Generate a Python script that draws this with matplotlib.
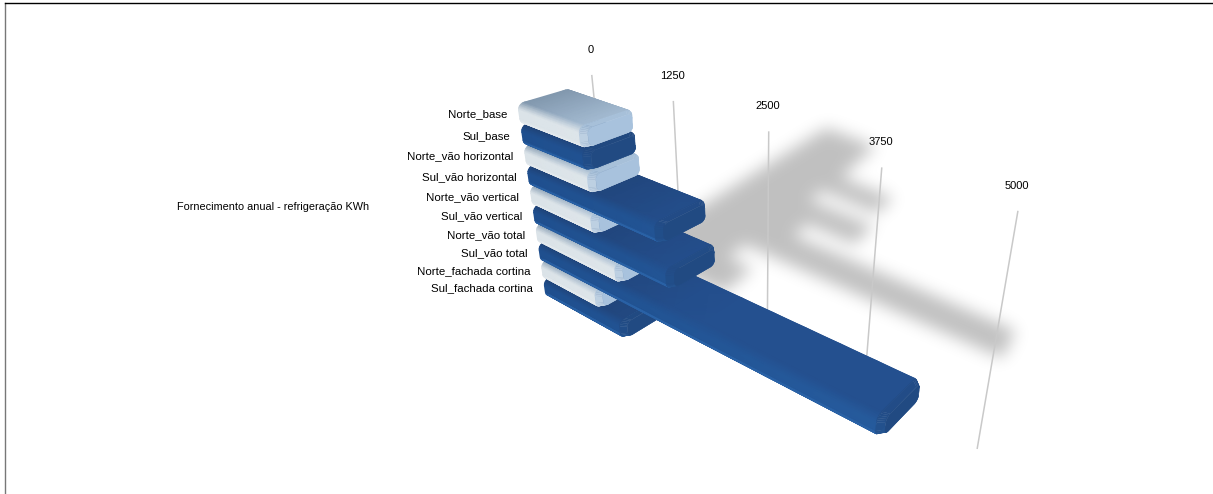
import numpy as np
import matplotlib
matplotlib.use('Agg')
import matplotlib.pyplot as plt
from matplotlib.collections import PolyCollection, LineCollection
from matplotlib.path import Path

plt.rcParams['font.family'] = ['Liberation Sans', 'DejaVu Sans']

# Chart data
categories = ['Norte_base', 'Sul_base', 'Norte_vão horizontal', 'Sul_vão horizontal',
              'Norte_vão vertical', 'Sul_vão vertical', 'Norte_vão total', 'Sul_vão total',
              'Norte_fachada cortina', 'Sul_fachada cortina']
values = [1000, 1015, 1050, 1970, 1030, 2080, 1330, 4510, 960, 1320]
ticks = [0, 1250, 2500, 3750, 5000]
title = 'Fornecimento anual - refrigeração KWh'

W, H = 1213, 494
THICK = 0.96   # bar thickness, in stack steps
WALL = 1.5     # depth of the gridline plane behind the bars
BEVEL = 60     # rounded end of a bar, in KWh


def fit_camera(world, pix):
    # least squares projective camera from (world, pixel) pairs
    world = np.asarray(world, float)
    pix = np.asarray(pix, float)
    rows, rhs = [], []
    n = world.shape[1]
    for X, (u, v) in zip(world, pix):
        rows.append(np.r_[X, 1, np.zeros(n + 1), -u * X])
        rhs.append(u)
        rows.append(np.r_[np.zeros(n + 1), X, 1, -v * X])
        rhs.append(v)
    p = np.linalg.lstsq(np.array(rows), np.array(rhs), rcond=None)[0]
    return p[:n + 1], p[n + 1:2 * n + 2], np.r_[p[2 * n + 2:], 1]


def project(cam, *coords):
    # value coordinates are passed in KWh
    X = np.broadcast_arrays(*coords)
    X = np.stack(list(X) + [np.ones_like(X[0], dtype=float)], axis=-1)
    X = X.astype(float)
    X[..., 0] /= 1000.0
    d = X @ cam[2]
    return np.stack([X @ cam[0] / d, X @ cam[1] / d], axis=-1)


# value (thousands), stack position, depth -> screen pixel
bars_cam = fit_camera(
    [(0, 0, 0), (0, 0, 1), (0, 9, 0), (.97, 0, 1), (.97, 0, 0), (4.47, 7, 0), (4.47, 7, 1),
     (4.47, 7.85, 0), (0, 7, 0), (0, -.35, 1.5), (1.25, -.35, 1.5), (2.5, -.35, 1.5),
     (3.75, -.35, 1.5), (5, -.35, 1.5), (5, 10.2, 1.5), (1.95, 3, 1), (2.06, 5, 1)],
    [(519, 103), (567, 88), (546, 279), (634, 110), (585, 126), (879, 413), (920, 382),
     (879, 436), (540, 245), (594, 75), (673, 101), (768, 131), (881, 167), (1018, 211),
     (978, 446), (704, 203), (712, 245)])
# value (thousands), stack position on the plane that takes the shadow
shadow_cam = fit_camera(
    [(0, 0), (.97, 0), (0, 3.4), (0, 5.4), (0, 7.4), (1.95, 3.4), (2.06, 5.4), (4.47, 7.4)],
    [(822, 130), (868, 150), (775, 160), (738, 184), (699, 210), (893, 202), (855, 230), (993, 340)])


def profile(i, rw=0.12, rs=0.28, n=6):
    # rounded section of bar i, going back -> top -> front -> bottom, as (depth, stack, angle)
    lo, hi = -0.04, 1.04
    corners = [(hi - rw, rs, 0, -90), (lo + rw, rs, -90, -180), (lo + rw, THICK - rs, -180, -270),
               (hi - rw, THICK - rs, -270, -360)]
    pts = []
    for cw, cs, a0, a1 in corners:
        for a in np.linspace(a0, a1, n):
            t = np.radians(a)
            pts.append((cw + rw * np.cos(t), i + cs + rs * np.sin(t), t))
    return np.array(pts)


def mix(a, b, t):
    return np.asarray(a) + (np.asarray(b) - np.asarray(a)) * np.clip(t, 0, 1)


def hexc(s):
    return np.array(matplotlib.colors.to_rgb(s))


PALETTE = {
    0: dict(top0=hexc('#8298ae'), top1=hexc('#a5bcd3'), front0=hexc('#dbe3e8'),
            front1=hexc('#e4eaee'), end=hexc('#a8c2dd')),
    1: dict(top0=hexc('#1f3f70'), top1=hexc('#24508f'), front0=hexc('#1f4f8e'),
            front1=hexc('#2a62a6'), end=hexc('#214a82')),
}


def shade(pal, t, frac):
    up = max(-np.sin(t), 0)
    fr = max(-np.cos(t), 0)
    down = max(np.sin(t), 0)
    top = mix(pal['top0'], pal['top1'], frac)
    front = mix(pal['front0'], pal['front1'], down + 0.3 * frac)
    return mix(front, top, up ** 1.5 / (up ** 1.5 + fr ** 1.5 + 1e-6))


def draw_bar(ax, i, val):
    pal = PALETTE[i % 2]
    prof = profile(i)
    ang = prof[:, 2]
    # only the part of the section that looks at the camera
    keep = -np.cos(ang) - 0.6 * np.sin(ang) > -0.3
    sec = prof[keep]
    ends = np.linspace(0, val - BEVEL, 12)
    vv, kk = np.meshgrid(ends, np.arange(len(sec)))
    xy = project(bars_cam, vv, sec[kk, 1], sec[kk, 0])
    frac = vv / 5000 * 2.2 if i % 2 else vv / val
    rgb = np.zeros(vv.shape + (3,))
    for r in range(vv.shape[0]):
        for c in range(vv.shape[1]):
            rgb[r, c] = shade(pal, sec[r, 2], frac[r, c])
    ax.pcolormesh(xy[..., 0], xy[..., 1], rgb, shading='gouraud', zorder=3)
    # end cap with a small bevel
    polys, cols = [], []
    pm = np.array([0.5, i + THICK / 2])
    xy0 = prof[:, :2]
    xy1 = pm + (xy0 - pm) * 0.84
    f_end = val / 5000 * 2.2 if i % 2 else 1.0
    for k in range(len(prof) - 1):
        q = project(bars_cam, np.array([val - BEVEL, val - BEVEL, val, val]),
                    np.array([xy0[k, 1], xy0[k + 1, 1], xy1[k + 1, 1], xy1[k, 1]]),
                    np.array([xy0[k, 0], xy0[k + 1, 0], xy1[k + 1, 0], xy1[k, 0]]))
        polys.append(q)
        cols.append(mix(shade(pal, prof[k, 2], f_end), pal['end'], 0.6))
    polys.append(project(bars_cam, np.full(len(xy1), val), xy1[:, 1], xy1[:, 0]))
    cols.append(pal['end'])
    ax.add_collection(PolyCollection(polys, facecolors=cols, edgecolors=cols, linewidths=0.3, zorder=3))


def blur(a, sigma):
    r = int(3 * sigma)
    g = np.exp(-0.5 * (np.arange(-r, r + 1) / sigma) ** 2)
    g /= g.sum()
    a = np.apply_along_axis(lambda m: np.convolve(m, g, mode='same'), 0, a)
    return np.apply_along_axis(lambda m: np.convolve(m, g, mode='same'), 1, a)


def draw_shadow(ax):
    xx, yy = np.meshgrid(np.arange(W) + 0.5, np.arange(H) + 0.5)
    pts = np.c_[xx.ravel(), yy.ravel()]
    mask = np.zeros(H * W, bool)
    for i, val in enumerate(values):
        q = project(shadow_cam, np.array([0, val * 1.03, val * 1.03, 0]),
                    np.array([i - .2, i - .2, i + 1.05, i + 1.05]))
        mask |= Path(q).contains_points(pts)
    alpha = blur(mask.reshape(H, W).astype(float), 8.0)
    rgba = np.zeros((H, W, 4))
    rgba[..., 3] = alpha * 0.25
    ax.imshow(rgba, extent=(0, W, H, 0), interpolation='bilinear', zorder=0, aspect='auto')


fig = plt.figure(figsize=(W / 100, H / 100), dpi=100)
ax = fig.add_axes([0, 0, 1, 1])
draw_shadow(ax)

# gridlines on the wall behind the bars
segs = [project(bars_cam, np.array([t, t]), np.array([-.35, 10.2]), np.array([WALL, WALL])) for t in ticks]
ax.add_collection(LineCollection(segs, colors='#c9c9c9', linewidths=1.1, zorder=1))
for t, seg in zip(ticks, segs):
    ax.text(seg[0, 0] - 1, seg[0, 1] - 25, str(t), ha='center', va='center', fontsize=8, color='black')

# nearest bars are the upper ones, so paint from the bottom up
for i in range(len(values) - 1, -1, -1):
    draw_bar(ax, i, values[i])

for i, name in enumerate(categories):
    p = project(bars_cam, np.array(0.0), np.array(i + .45), np.array(0.0))
    ax.text(p[0] - 14, p[1] + 1, name, ha='right', va='center', fontsize=8.25, color='black')

ax.text(177, 207, title, ha='left', va='center', fontsize=7.8, color='black')

# the frame of the picture
ax.plot([5, 5], [H, 3.5], color='#777777', lw=1.0, zorder=5)
ax.plot([5, W], [3.5, 3.5], color='black', lw=1.0, zorder=5)
ax.set_xlim(0, W)
ax.set_ylim(H, 0)
ax.axis('off')
fig.savefig('out.png', dpi=100)
